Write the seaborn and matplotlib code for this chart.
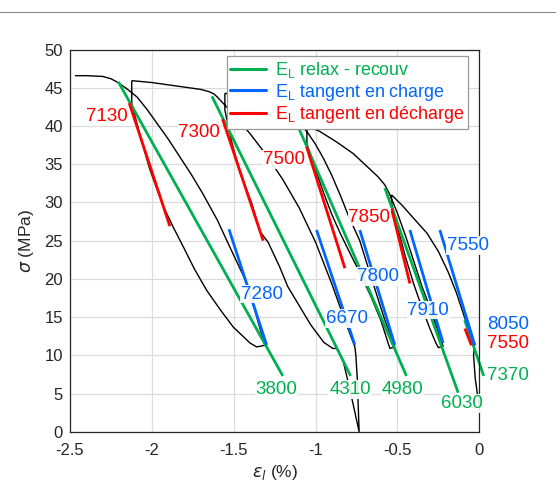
import numpy as np
import pandas as pd
import matplotlib
matplotlib.use("Agg")
import matplotlib.pyplot as plt
import seaborn as sns
from matplotlib.lines import Line2D

# ---------------- data ----------------
loop1_x = [-2.47, -2.40, -2.30, -2.25, -2.215, -2.16, -2.09, -2.03, -1.97, -1.90, -1.83, -1.76,
           -1.69, -1.60, -1.52, -1.43, -1.37, -1.31, -1.36, -1.40, -1.503, -1.58, -1.665, -1.74,
           -1.808, -1.87, -1.93, -2.012, -2.07, -2.123, -2.123]
loop1_y = [46.6, 46.6, 46.5, 46.2, 45.8, 45.0, 43.8, 42.2, 40.4, 38.3, 36.0, 33.7,
           31.2, 27.7, 24.0, 19.9, 15.8, 11.3, 11.1, 11.6, 13.7, 15.9, 18.5, 21.3,
           24.2, 26.8, 29.5, 34.3, 38.6, 43.0, 45.95]

loop2_x = [-2.123, -2.0, -1.9, -1.8, -1.70, -1.65, -1.62, -1.60, -1.50, -1.40, -1.30, -1.20,
           -1.10, -1.00, -0.90, -0.82, -0.76, -0.754, -0.745, -0.734, -0.79, -0.831, -0.86,
           -0.875, -0.895, -0.95, -1.03, -1.10, -1.17, -1.22, -1.29, -1.34, -1.39, -1.46,
           -1.51, -1.554, -1.554]
loop2_y = [45.95, 45.7, 45.4, 45.1, 44.8, 44.5, 44.2, 43.8, 41.5, 39.0, 36.2, 33.0,
           29.3, 24.8, 19.3, 14.5, 11.1, 10.0, 6.8, 0.0, 5.5, 9.2, 10.6,
           10.9, 10.9, 11.7, 14.0, 16.5, 19.0, 21.6, 24.8, 26.2, 29.9, 33.8,
           37.7, 42.1, 44.3]

loop3_x = [-1.554, -1.45, -1.35, -1.25, -1.18, -1.13, -1.106, -1.05, -1.0, -0.95, -0.90, -0.85,
           -0.80, -0.73, -0.65, -0.58, -0.516, -0.546, -0.56, -0.60, -0.66, -0.73, -0.80,
           -0.85, -0.90, -0.95, -1.0, -1.053, -1.053]
loop3_y = [44.3, 43.9, 43.3, 42.5, 41.6, 40.9, 40.5, 39.2, 37.6, 35.7, 33.5, 31.0,
           28.3, 25.0, 19.5, 14.8, 11.1, 10.9, 11.8, 14.5, 17.6, 20.8, 23.8,
           26.0, 28.4, 31.2, 34.3, 37.7, 40.0]

loop4_x = [-1.053, -0.974, -0.87, -0.77, -0.68, -0.62, -0.577, -0.55, -0.50, -0.45, -0.40,
           -0.35, -0.30, -0.25, -0.221, -0.25, -0.265, -0.30, -0.35, -0.40, -0.45, -0.50,
           -0.536, -0.536]
loop4_y = [40.0, 39.3, 37.9, 36.4, 34.6, 33.4, 32.3, 31.2, 28.6, 25.6, 22.3,
           19.0, 16.2, 13.0, 11.2, 11.0, 11.6, 13.4, 16.2, 19.3, 22.8, 26.8,
           29.9, 31.0]

loop5_x = [-0.536, -0.47, -0.40, -0.32, -0.25, -0.19, -0.14, -0.10, -0.06, -0.03, -0.035,
           -0.025, -0.012, -0.004]
loop5_y = [31.0, 29.6, 27.9, 26.0, 23.6, 20.9, 18.2, 15.6, 13.0, 11.2, 10.0,
           7.0, 5.0, 3.5]

# E_L lines: [x_start, x_end], [y_start, y_end]
green_x = [[-2.205, -1.20], [-1.633, -0.786], [-1.106, -0.445], [-0.577, -0.129], [-0.089, 0.027]]
green_y = [[45.8, 7.3], [43.9, 7.3], [39.9, 7.3], [31.9, 5.1], [14.6, 7.3]]
blue_x = [[-1.529, -1.299], [-0.994, -0.76], [-0.73, -0.516], [-0.424, -0.221], [-0.241, -0.027],
          [-0.085, -0.03]]
blue_y = [[26.5, 11.35], [26.4, 11.35], [26.4, 11.35], [26.4, 11.6], [26.4, 11.3], [15.0, 11.3]]
red_x = [[-2.138, -1.89], [-1.568, -1.32], [-1.055, -0.821], [-0.536, -0.424], [-0.088, -0.048]]
red_y = [[43.0, 26.9], [40.9, 25.0], [37.3, 21.4], [29.2, 19.4], [13.5, 11.3]]

green_labels = ["3800", "4310", "4980", "6030", "7370"]
green_lab_x = [-1.238, -0.79, -0.469, -0.103, 0.176]
green_lab_y = [5.5, 5.5, 5.5, 3.7, 7.4]
blue_labels = ["7280", "6670", "7800", "7910", "7550", "8050"]
blue_lab_x = [-1.33, -0.811, -0.618, -0.312, -0.068, 0.176]
blue_lab_y = [18.0, 14.8, 20.3, 15.9, 24.4, 14.0]
red_labels = ["7130", "7300", "7500", "7850", "7550"]
red_lab_x = [-2.275, -1.715, -1.192, -0.672, 0.176]
red_lab_y = [41.2, 39.1, 35.6, 28.1, 11.6]

legend_labels = [r"$\mathregular{E_L}$ relax - recouv",
                 r"$\mathregular{E_L}$ tangent en charge",
                 r"$\mathregular{E_L}$ tangent en décharge"]

x_ticks = [-2.5, -2, -1.5, -1, -0.5, 0]
x_tick_labels = ["-2.5", "-2", "-1.5", "-1", "-0.5", "0"]
y_ticks = list(range(0, 51, 5))

GREEN = "#00B050"
BLUE = "#0066FF"
RED = "#FF0000"

# ---------------- style ----------------
sns.set_theme(style="whitegrid")
plt.rcParams["font.family"] = ["Liberation Sans", "DejaVu Sans"]
plt.rcParams["mathtext.fontset"] = "dejavusans"

fig = plt.figure(figsize=(5.56, 4.90), dpi=100)
ax = fig.add_axes([70 / 556, 1 - 431.7 / 490, (479.3 - 70) / 556, (431.7 - 49.7) / 490])

# ---------------- black loops ----------------
frames = []
for i, (xs, ys) in enumerate([(loop1_x, loop1_y), (loop2_x, loop2_y), (loop3_x, loop3_y),
                              (loop4_x, loop4_y), (loop5_x, loop5_y)]):
    frames.append(pd.DataFrame({"x": xs, "y": ys, "seg": i}))
df_black = pd.concat(frames, ignore_index=True)
sns.lineplot(data=df_black, x="x", y="y", units="seg", estimator=None, sort=False,
             color="black", lw=1.0, ax=ax, legend=False)

# ---------------- E_L lines ----------------
rows = []
k = 0
for kind, xs, ys in [("g", green_x, green_y), ("b", blue_x, blue_y), ("r", red_x, red_y)]:
    for sx, sy in zip(xs, ys):
        for px, py in zip(sx, sy):
            rows.append({"x": px, "y": py, "kind": kind, "seg": k})
        k += 1
df_col = pd.DataFrame(rows)
sns.lineplot(data=df_col, x="x", y="y", hue="kind", units="seg", estimator=None, sort=False,
             palette={"g": GREEN, "b": BLUE, "r": RED}, lw=2.0, ax=ax, legend=False)

for ln in ax.get_lines():
    ln.set_clip_on(False)
    ln.set_solid_capstyle("butt")

# ---------------- labels ----------------
bb = dict(facecolor="white", edgecolor="none", pad=0.6, alpha=0.9)
for labs, lx, ly, c in [(green_labels, green_lab_x, green_lab_y, GREEN),
                        (blue_labels, blue_lab_x, blue_lab_y, BLUE),
                        (red_labels, red_lab_x, red_lab_y, RED)]:
    for t, x, y in zip(labs, lx, ly):
        ax.text(x, y, t, color=c, fontsize=13.5, ha="center", va="center",
                bbox=bb, clip_on=False, zorder=5)

# ---------------- axes ----------------
ax.set_xlim(-2.5, 0)
ax.set_ylim(0, 50)
ax.set_xticks(x_ticks)
ax.set_xticklabels(x_tick_labels)
ax.set_yticks(y_ticks)
ax.tick_params(axis="both", labelsize=12, colors="#262626", direction="in", length=4,
               width=0.8)
ax.tick_params(axis="x", pad=8)
ax.tick_params(axis="y", pad=5)
ax.grid(True, color="#dcdcdc", lw=0.9)
ax.set_facecolor("white")
for sp in ax.spines.values():
    sp.set_visible(True)
    sp.set_color("#262626")
    sp.set_linewidth(0.9)
ax.set_xlabel(r"$\epsilon_l$ (%)", fontsize=12.5, color="#262626", labelpad=4)
ax.set_ylabel(r"$\sigma$ (MPa)", fontsize=12.5, color="#262626", labelpad=6)

handles = [Line2D([0], [0], color=GREEN, lw=2.2),
           Line2D([0], [0], color=BLUE, lw=2.2),
           Line2D([0], [0], color=RED, lw=2.2)]
leg = ax.legend(handles, legend_labels, loc="upper left", bbox_to_anchor=(0.383, 0.983),
                fontsize=12.9, frameon=True, fancybox=False, framealpha=1,
                edgecolor="#999999", labelcolor="linecolor", handlelength=2.0,
                handletextpad=0.5, borderpad=0.2, labelspacing=0.1, borderaxespad=0)
leg.get_frame().set_linewidth(0.9)

# page border line at top
fig.add_artist(Line2D([0, 1], [1 - 12 / 490, 1 - 12 / 490], color="#888888", lw=0.8))

fig.savefig("out.png", dpi=100)
